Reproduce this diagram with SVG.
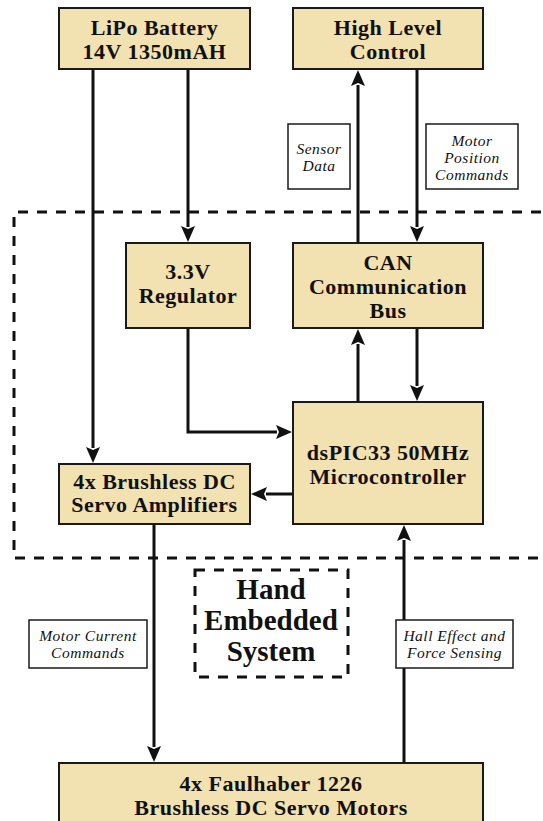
<svg xmlns="http://www.w3.org/2000/svg" width="543" height="821" viewBox="0 0 543 821">
  <style>
    .node rect { fill: #F2E1B1; stroke: #1a1a1a; stroke-width: 2; }
    .node text { font-family: "Liberation Serif", "Times New Roman", serif; font-weight: bold; font-size: 22px; letter-spacing: 0.5px; fill: #111; text-anchor: middle; }
    .label rect { fill: #ffffff; stroke: #1a1a1a; stroke-width: 1.5; }
    .label text { font-family: "Liberation Serif", "Times New Roman", serif; font-style: italic; font-size: 15.5px; letter-spacing: 0.5px; fill: #111; text-anchor: middle; }
    .region { fill: none; stroke: #111; stroke-width: 3; stroke-dasharray: 10 9; }
    .title text { font-family: "Liberation Serif", "Times New Roman", serif; font-weight: bold; font-size: 29px; fill: #111; text-anchor: middle; }
    .wire { fill: none; stroke: #111; stroke-width: 3; }
    .arrow { marker-end: url(#head); }
  </style>
  <defs>
    <marker id="head" markerUnits="userSpaceOnUse" markerWidth="16" markerHeight="14" viewBox="0 0 16 14" refX="1" refY="7" orient="auto">
      <path d="M0,0 L16,7 L0,14 L3,7 z" fill="#111"/>
    </marker>
  </defs>

  <rect width="543" height="821" fill="#ffffff"/>

  <!-- embedded system boundary -->
  <g id="embedded-boundary">
    <path class="region" d="M560,212 H14 V558 H560"/>
  </g>
  <g id="embedded-title" class="title">
    <rect x="195" y="570" width="153" height="107" fill="#ffffff" stroke="#111" stroke-width="3" stroke-dasharray="10 9"/>
    <text x="271" y="599">Hand</text>
    <text x="271" y="630">Embedded</text>
    <text x="271" y="661">System</text>
  </g>

  <!-- connectors -->
  <g id="connectors">
    <!-- battery to amplifiers -->
    <path class="wire arrow" d="M93,69 V448"/>
    <!-- battery to regulator -->
    <path class="wire arrow" d="M188,69 V227"/>
    <!-- CAN bus to high level control -->
    <path class="wire arrow" d="M358,243 V85"/>
    <!-- high level control to CAN bus -->
    <path class="wire arrow" d="M417,69 V227"/>
    <!-- microcontroller to CAN bus -->
    <path class="wire arrow" d="M358,402 V344"/>
    <!-- CAN bus to microcontroller -->
    <path class="wire arrow" d="M417,328 V386"/>
    <!-- regulator to microcontroller -->
    <path class="wire arrow" d="M188,328 V432 H277"/>
    <!-- microcontroller to amplifiers -->
    <path class="wire arrow" d="M293,494 H266"/>
    <!-- amplifiers to motors -->
    <path class="wire arrow" d="M154,524 V747"/>
    <!-- motors to microcontroller -->
    <path class="wire arrow" d="M404,763 V540"/>
  </g>

  <!-- signal labels -->
  <g id="label-sensor-data" class="label">
    <rect x="288" y="124" width="62" height="65"/>
    <text x="319" y="154">Sensor</text>
    <text x="319" y="171">Data</text>
  </g>
  <g id="label-position-commands" class="label">
    <rect x="426" y="124" width="92" height="65"/>
    <text x="472" y="146">Motor</text>
    <text x="472" y="163">Position</text>
    <text x="472" y="180">Commands</text>
  </g>
  <g id="label-current-commands" class="label">
    <rect x="29" y="620" width="118" height="48"/>
    <text x="88" y="641">Motor Current</text>
    <text x="88" y="658">Commands</text>
  </g>
  <g id="label-sensing" class="label">
    <rect x="396" y="620" width="117" height="48"/>
    <text x="454.5" y="641">Hall Effect and</text>
    <text x="454.5" y="658">Force Sensing</text>
  </g>

  <!-- blocks -->
  <g id="battery" class="node">
    <rect x="59" y="8" width="191" height="61"/>
    <text x="154.5" y="35">LiPo Battery</text>
    <text x="154.5" y="59">14V 1350mAH</text>
  </g>
  <g id="high-level-control" class="node">
    <rect x="293" y="8" width="190" height="61"/>
    <text x="388" y="35">High Level</text>
    <text x="388" y="59">Control</text>
  </g>
  <g id="regulator" class="node">
    <rect x="126" y="243" width="124" height="85"/>
    <text x="188" y="279">3.3V</text>
    <text x="188" y="303">Regulator</text>
  </g>
  <g id="can-bus" class="node">
    <rect x="293" y="243" width="190" height="85"/>
    <text x="388" y="270">CAN</text>
    <text x="388" y="294">Communication</text>
    <text x="388" y="318">Bus</text>
  </g>
  <g id="microcontroller" class="node">
    <rect x="293" y="402" width="190" height="122"/>
    <text x="388" y="460">dsPIC33 50MHz</text>
    <text x="388" y="484">Microcontroller</text>
  </g>
  <g id="amplifiers" class="node">
    <rect x="59" y="464" width="191" height="60"/>
    <text x="154.5" y="489">4x Brushless DC</text>
    <text x="154.5" y="512">Servo Amplifiers</text>
  </g>
  <g id="motors" class="node">
    <rect x="59" y="763" width="424" height="70"/>
    <text x="271" y="791">4x Faulhaber 1226</text>
    <text x="271" y="815">Brushless DC Servo Motors</text>
  </g>
</svg>
